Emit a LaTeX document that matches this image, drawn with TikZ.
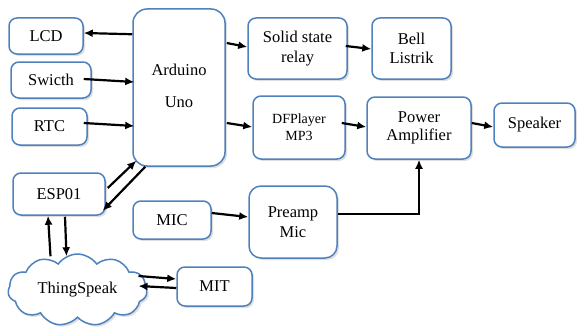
\documentclass[tikz,border=0pt]{standalone}
\usepackage{fontspec}
\setmainfont{Liberation Serif}
\usetikzlibrary{shapes.symbols,shadows,calc,arrows.meta}
\definecolor{bordblue}{RGB}{79,129,189}
\tikzset{
  blk/.style={draw=bordblue, line width=1.5pt, rounded corners=8pt, fill=white,
    align=center, inner sep=0pt, font=\fontsize{16.5}{19.5}\selectfont,
    drop shadow={shadow xshift=2pt, shadow yshift=-2pt, opacity=0.25, fill=gray}},
  arr/.style={line width=2.2pt, -{Latex[length=9pt,width=8pt]}},
}
\begin{document}
\begin{tikzpicture}[x=1pt,y=-1pt]
\useasboundingbox (0,0) rectangle (577,329);
\node[blk, minimum width=74pt, minimum height=36pt] (lcd) at (46,36) {LCD};
\node[blk, minimum width=80pt, minimum height=36pt] (sw) at (51,80) {Swicth};
\node[blk, minimum width=75pt, minimum height=37pt] (rtc) at (49.5,126.5) {RTC};
\node[blk, minimum width=92pt, minimum height=157pt, rounded corners=14pt] (ard) at (179,87.5) {\raisebox{4pt}{\begin{tabular}{@{}c@{}}Arduino\\[13pt]Uno\end{tabular}}};
\node[blk, minimum width=99pt, minimum height=61pt] (ssr) at (297.5,48.5) {Solid state\\relay};
\node[blk, minimum width=79pt, minimum height=61pt] (bell) at (411.5,48.5) {Bell\\[-1pt]Listrik};
\node[blk, minimum width=92pt, minimum height=63pt, font=\fontsize{14}{17}\selectfont] (df) at (299,127.5) {DFPlayer\\MP3};
\node[blk, minimum width=104pt, minimum height=62pt] (pa) at (419,128) {Power\\[-1pt]Amplifier};
\node[blk, minimum width=81pt, minimum height=44pt] (spk) at (534.5,125) {Speaker};
\node[blk, minimum width=92pt, minimum height=42pt] (esp) at (59,194) {ESP01};
\node[blk, minimum width=78pt, minimum height=38pt] (mic) at (172,220) {MIC};
\node[blk, minimum width=88pt, minimum height=72pt, rounded corners=12pt] (pre) at (293,222) {Preamp\\Mic};
\node[blk, minimum width=75pt, minimum height=39pt] (mit) at (214.5,286.5) {MIT};
\node[blk, cloud, rounded corners=0pt, cloud puffs=11, cloud puff arc=110, cloud ignores aspect,
  minimum width=139pt, minimum height=72pt] (cloud) at (77.5,290) {ThingSpeak};

\draw[arr] ($(ard.north west)+(0,26)$) -- ($(lcd.east)+(0,-3)$);
\draw[arr] ($(sw.east)+(-8,-1)$) -- ($(ard.west)+(2,-5.5)$);
\draw[arr] ($(rtc.east)+(-4,-3.5)$) -- ($(ard.west)+(2,38.5)$);
\draw[arr] ($(ard.east)+(1,-44.5)$) -- ($(ssr.west)+(0,-1.5)$);
\draw[arr] ($(ard.east)+(1,35.5)$) -- ($(df.west)+(0,-0.5)$);
\draw[arr] ($(ssr.east)+(-2,-2.5)$) -- ($(bell.west)+(0,0.5)$);
\draw[arr] ($(df.east)+(-4,-4.5)$) -- ($(pa.west)+(0,-1)$);
\draw[arr] ($(pa.east)+(0,-5)$) -- ($(spk.west)+(0,2)$);
\draw[arr] ($(esp.east)+(2,-6)$) -- ($(ard.south west)+(4,-6)$);
\draw[arr] ($(ard.south west)+(13,0)$) -- ($(esp.south east)+(-3,-5)$);
\draw[arr] ($(mic.east)+(0,-7)$) -- ($(pre.west)+(0,-5)$);
\draw[arr] ($(pre.east)+(0,-8)$) -| (pa.south);
\draw[arr] ($(esp.south)+(6,1)$) -- ($(cloud.north)+(-11,3)$);
\draw[arr] ($(cloud.north)+(-27,3)$) -- ($(esp.south)+(-11,0)$);
\draw[arr] ($(cloud.east)+(-9,-14)$) -- ($(mit.west)+(0,-7.5)$);
\draw[arr] ($(mit.west)+(0,1.5)$) -- ($(cloud.east)+(-9,-4)$);
\end{tikzpicture}
\end{document}
